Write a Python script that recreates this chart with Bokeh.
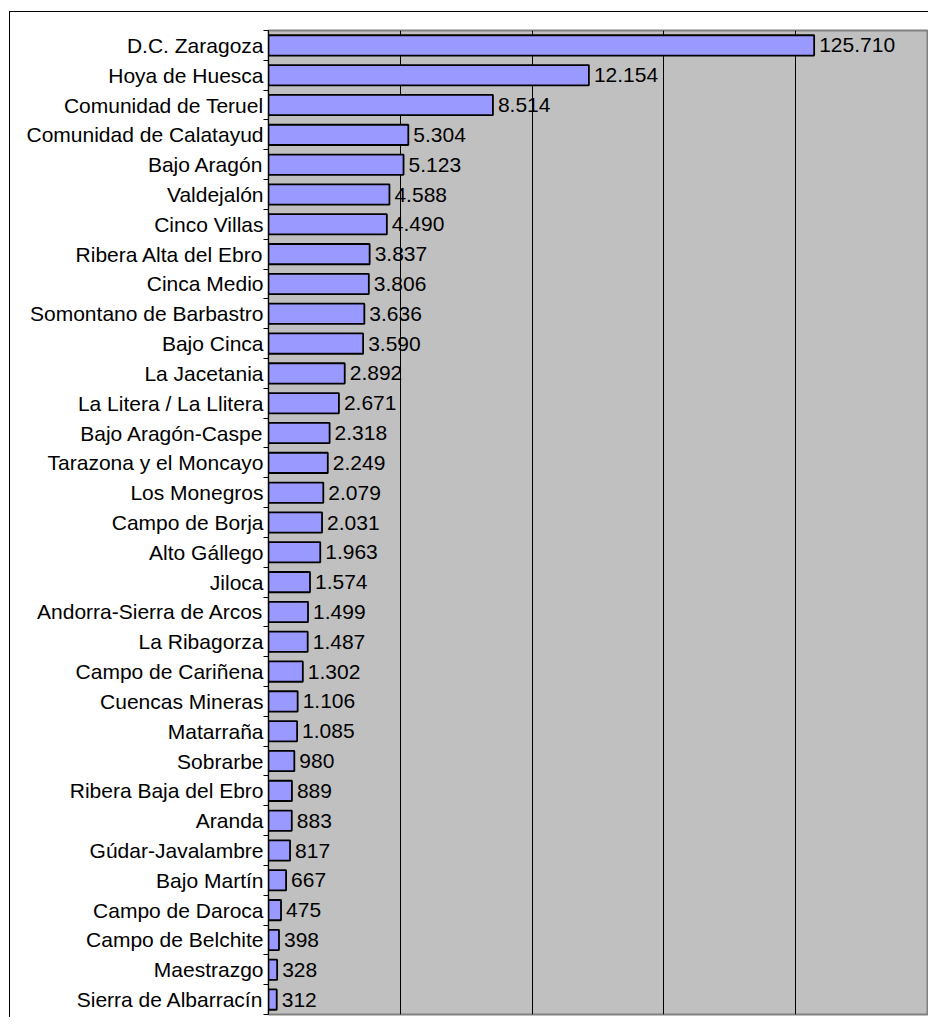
from bokeh.plotting import figure
from bokeh.models import FixedTicker, Range1d, ColumnDataSource
from bokeh.core.properties import value
from bokeh.embed import file_html
from bokeh.resources import INLINE

comarcas = ["D.C. Zaragoza", "Hoya de Huesca", "Comunidad de Teruel", "Comunidad de Calatayud",
            "Bajo Aragón", "Valdejalón", "Cinco Villas", "Ribera Alta del Ebro", "Cinca Medio",
            "Somontano de Barbastro", "Bajo Cinca", "La Jacetania", "La Litera / La Llitera",
            "Bajo Aragón-Caspe", "Tarazona y el Moncayo", "Los Monegros", "Campo de Borja",
            "Alto Gállego", "Jiloca", "Andorra-Sierra de Arcos", "La Ribagorza", "Campo de Cariñena",
            "Cuencas Mineras", "Matarraña", "Sobrarbe", "Ribera Baja del Ebro", "Aranda",
            "Gúdar-Javalambre", "Bajo Martín", "Campo de Daroca", "Campo de Belchite",
            "Maestrazgo", "Sierra de Albarracín"]
valores = [125710, 12154, 8514, 5304, 5123, 4588, 4490, 3837, 3806, 3636, 3590, 2892, 2671,
           2318, 2249, 2079, 2031, 1963, 1574, 1499, 1487, 1302, 1106, 1085, 980, 889, 883,
           817, 667, 475, 398, 328, 312]
x_grid_ticks = [5000, 10000, 15000, 20000]
x_max = 25000
bar_cap = 20700  # the off-scale bar is drawn truncated in the original chart

FONT = "Liberation Sans"
n = len(comarcas)
ypos = [n - i - 0.5 for i in range(n)]
bar_len = [min(v, bar_cap) for v in valores]
etiquetas = [f"{v:,}".replace(",", ".") for v in valores]

src = ColumnDataSource(dict(y=ypos, x=bar_len, lab=etiquetas, name=comarcas))

p = figure(width=919, height=1006, output_backend="svg", toolbar_location=None,
           x_range=Range1d(0, x_max), y_range=Range1d(0, n),
           min_border_left=258, min_border_right=2, min_border_top=18, min_border_bottom=4)
p.styles = {"border-left": "1px solid black", "border-top": "1px solid black",
            "margin-left": "9px", "margin-top": "11px"}

p.background_fill_color = "#C0C0C0"
p.border_fill_color = "white"
p.outline_line_color = "#808080"
p.outline_line_width = 2

p.hbar(y="y", right="x", left=0, height=0.68, source=src,
       fill_color="#9999FF", line_color="black", line_width=1.8)
p.text(x="x", y="y", text="lab", source=src, x_offset=5, text_baseline="middle",
       text_align="left", text_font=value(FONT), text_font_size="21px", text_color="black")

p.xaxis.visible = False
p.xgrid.ticker = FixedTicker(ticks=x_grid_ticks)
p.xgrid.grid_line_color = "black"
p.xgrid.grid_line_width = 1
p.ygrid.visible = False

yax = p.yaxis[0]
yax.ticker = FixedTicker(ticks=ypos, minor_ticks=list(range(n + 1)))
yax.major_label_overrides = {y: nm for y, nm in zip(ypos, comarcas)}
yax.major_tick_out = 0
yax.major_tick_in = 0
yax.minor_tick_out = 5
yax.minor_tick_in = 0
yax.minor_tick_line_color = "black"
yax.axis_line_color = "black"
yax.axis_line_width = 1
yax.major_label_standoff = 0
yax.major_label_text_font = FONT
yax.major_label_text_font_size = "21px"
yax.major_label_text_color = "black"

open("out.html", "w").write(file_html(p, INLINE))
